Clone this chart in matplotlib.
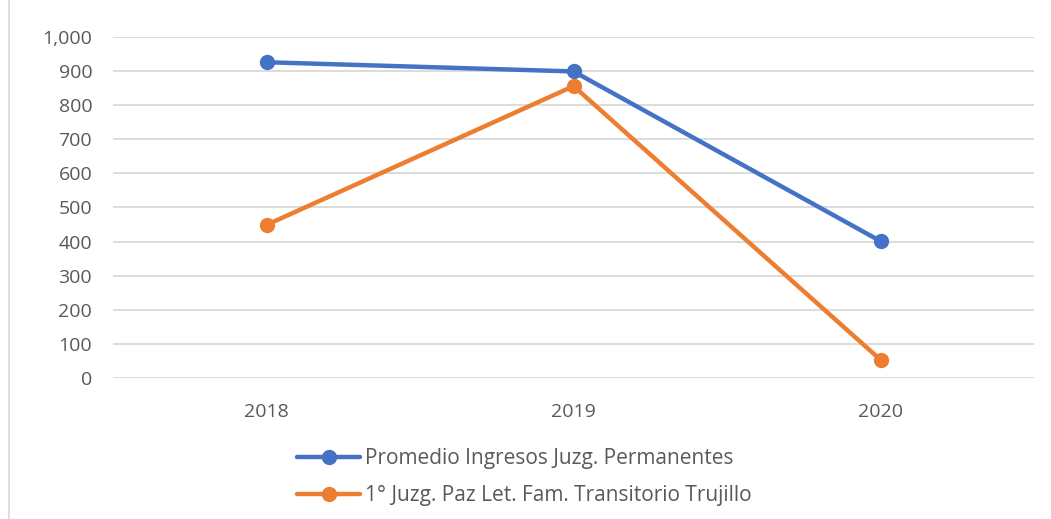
import matplotlib.pyplot as plt
from matplotlib.patches import Rectangle

years = ["2018", "2019", "2020"]
promedio = [926, 899, 401]
juzgado = [449, 856, 53]
labels = ["Promedio Ingresos Juzg. Permanentes",
          "1° Juzg. Paz Let. Fam. Transitorio Trujillo"]

plt.rcParams['font.family'] = ['Open Sans', 'DejaVu Sans']

fig = plt.figure(figsize=(10.51, 5.19), dpi=100)
ax = fig.add_axes([0.1075, 0.2717, 0.8765, 0.657])

x = range(len(years))
l1, = ax.plot(x, promedio, color="#4472C4", lw=3.2, marker="o", ms=10,
              solid_capstyle="round")
l2, = ax.plot(x, juzgado, color="#ED7D31", lw=3.2, marker="o", ms=10,
              solid_capstyle="round")

ax.set_xlim(-0.5, 2.5)
ax.set_ylim(0, 1000)
ax.set_yticks(range(0, 1001, 100))
ax.set_yticklabels([f"{v:,}" for v in range(0, 1001, 100)])
ax.set_xticks(list(x))
ax.set_xticklabels(years)
ax.tick_params(length=0, labelsize=14, labelcolor="#595959")
ax.tick_params(axis="x", pad=18)
ax.tick_params(axis="y", pad=15)
ax.grid(axis="y", color="#D9D9D9", lw=1.3)
ax.set_axisbelow(True)
for s in ax.spines.values():
    s.set_visible(False)

fig.legend([l1, l2], labels, loc="upper left", bbox_to_anchor=(0.275, 0.152),
           frameon=False, fontsize=15, labelcolor="#595959",
           handlelength=3.0, handletextpad=0.25, labelspacing=0.75,
           borderaxespad=0)

fig.patches.append(Rectangle((0.009, -0.01), 1.1, 1.1, transform=fig.transFigure,
                             fill=False, ec="#D9D9D9", lw=1.2))

fig.savefig("out.png", dpi=100)
